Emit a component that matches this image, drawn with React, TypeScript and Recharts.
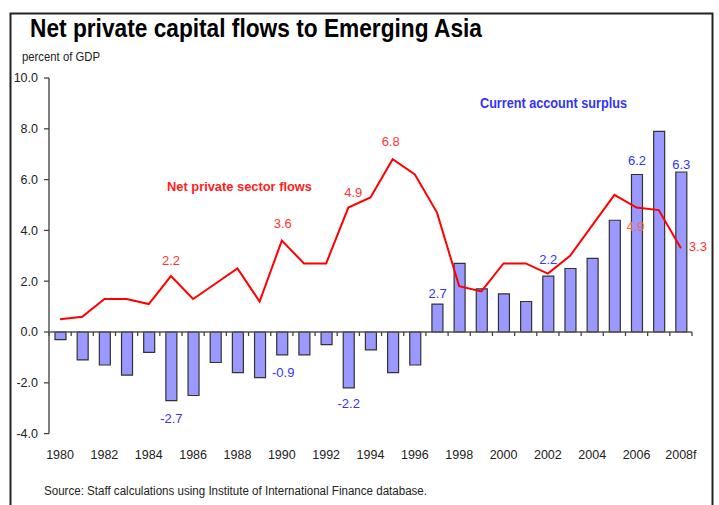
import React from 'react';
import { ComposedChart, Bar, Line, XAxis, YAxis, ReferenceLine, LabelList } from 'recharts';

const years = [
  '1980', '1981', '1982', '1983', '1984', '1985', '1986', '1987', '1988', '1989',
  '1990', '1991', '1992', '1993', '1994', '1995', '1996', '1997', '1998', '1999',
  '2000', '2001', '2002', '2003', '2004', '2005', '2006', '2007', '2008f',
];

// current account surplus, percent of GDP
const currentAccount = [
  -0.3, -1.1, -1.3, -1.7, -0.8, -2.7, -2.5, -1.2, -1.6, -1.8,
  -0.9, -0.9, -0.5, -2.2, -0.7, -1.6, -1.3, 1.1, 2.7, 1.7,
  1.5, 1.2, 2.2, 2.5, 2.9, 4.4, 6.2, 7.9, 6.3,
];

// net private sector flows, percent of GDP
const netPrivate = [
  0.5, 0.6, 1.3, 1.3, 1.1, 2.2, 1.3, 1.9, 2.5, 1.2,
  3.6, 2.7, 2.7, 4.9, 5.3, 6.8, 6.2, 4.7, 1.8, 1.6,
  2.7, 2.7, 2.3, 3.0, 4.2, 5.4, 4.9, 4.8, 3.3,
];

const yTicks = [-4, -2, 0, 2, 4, 6, 8, 10];

const data = years.map((year, i) => ({ year, ca: currentAccount[i], np: netPrivate[i] }));

const FONT = "'Liberation Sans', Arial, sans-serif";

// which points carry a value label, and where it sits relative to the mark
const caLabelPlace: Record<number, { dx: number; dy: number }> = {
  5: { dx: 0, dy: 18 },
  10: { dx: 1, dy: 18 },
  13: { dx: 0, dy: 16 },
  18: { dx: -22, dy: 30 },
  22: { dx: 0, dy: -17 },
  26: { dx: 0, dy: -14 },
  28: { dx: 0, dy: -7 },
};

const npLabelPlace: Record<number, { dx: number; dy: number; color?: string }> = {
  5: { dx: 0, dy: -16 },
  10: { dx: 1, dy: -17 },
  13: { dx: 5, dy: -15 },
  15: { dx: -2, dy: -18 },
  26: { dx: -1, dy: 19, color: '#ff6633' },
  28: { dx: 17, dy: -2 },
};

const box = (p: any) => {
  const vb = p.viewBox || {};
  return {
    x: vb.x ?? p.x ?? 0,
    y: vb.y ?? p.y ?? 0,
    width: vb.width ?? p.width ?? 0,
    height: vb.height ?? p.height ?? 0,
  };
};

const CaLabel = (p: any) => {
  const place = caLabelPlace[p.index];
  if (!place) return null;
  const { x, y, width, height } = box(p);
  const v = Number(p.value);
  const end = v >= 0 ? Math.min(y, y + height) : Math.max(y, y + height);
  return (
    <text x={x + width / 2 + place.dx} y={end + place.dy} textAnchor="middle" dominantBaseline="central"
      fill="#3333ff" fontSize={13} fontFamily={FONT}>
      {v.toFixed(1)}
    </text>
  );
};

const NpLabel = (p: any) => {
  const place = npLabelPlace[p.index];
  if (!place) return null;
  const { x, y, width } = box(p);
  const v = Number(p.value);
  return (
    <text x={x + width / 2 + place.dx} y={y + place.dy} textAnchor="middle" dominantBaseline="central"
      fill={place.color || '#ff3333'} fontSize={13} fontFamily={FONT}>
      {v.toFixed(1)}
    </text>
  );
};

// zero line acts as the category axis, with ticks at the band edges
const ZeroAxis = (p: any) => {
  const { x1, y1, x2 } = p;
  const n = years.length;
  const step = (x2 - x1) / n;
  const ticks = [];
  for (let i = 0; i <= n; i++) {
    const tx = x1 + i * step;
    ticks.push(<line key={i} x1={tx} y1={y1} x2={tx} y2={y1 + 4} stroke="#444" strokeWidth={1.3} />);
  }
  return (
    <g>
      <line x1={x1} y1={y1} x2={x2} y2={y1} stroke="#555" strokeWidth={1.5} />
      {ticks}
    </g>
  );
};

export default function App() {
  return (
    <div style={{ position: 'absolute', left: 0, top: 0, width: 719, height: 505, background: '#fff', overflow: 'hidden' }}>
      <ComposedChart width={719} height={505} data={data}
        margin={{ top: 78, right: 27, bottom: 0, left: 0 }}
        style={{ fontFamily: FONT }}>
        <XAxis dataKey="year" interval={1} axisLine={false} tickLine={false} tickSize={0} tickMargin={17}
          height={71.4} tick={{ fill: '#222', fontSize: 12.5 }} />
        <YAxis domain={[-4, 10]} ticks={yTicks} interval={0} width={49} tickSize={5} tickMargin={6}
          tickFormatter={(v: number) => v.toFixed(1)}
          axisLine={{ stroke: '#555', strokeWidth: 1.5 }} tickLine={{ stroke: '#444', strokeWidth: 1.3 }}
          tick={{ fill: '#222', fontSize: 12.5 }} />
        <Bar dataKey="ca" barSize={11} fill="#9999ff" stroke="#333" strokeWidth={1.2} isAnimationActive={false}>
          <LabelList dataKey="ca" content={CaLabel} />
        </Bar>
        <ReferenceLine y={0} shape={ZeroAxis} />
        <Line type="linear" dataKey="np" stroke="#ff0000" strokeWidth={2} dot={false} isAnimationActive={false}>
          <LabelList dataKey="np" content={NpLabel} />
        </Line>
      </ComposedChart>
      <svg width={719} height={505} style={{ position: 'absolute', left: 0, top: 0, pointerEvents: 'none' }}
        fontFamily={FONT}>
        <rect x={10.5} y={13.5} width={702} height={520} fill="none" stroke="#222" strokeWidth={2} />
        <text x={30} y={37} fontSize={25} fontWeight="bold" fill="#000" textLength={452} lengthAdjust="spacingAndGlyphs">
          Net private capital flows to Emerging Asia
        </text>
        <text x={22} y={60.5} fontSize={12} fill="#222" textLength={78} lengthAdjust="spacingAndGlyphs">
          percent of GDP
        </text>
        <text x={167} y={191} fontSize={13.5} fontWeight="bold" fill="#ff2020" textLength={145} lengthAdjust="spacingAndGlyphs">
          Net private sector flows
        </text>
        <text x={480} y={108} fontSize={14} fontWeight="bold" fill="#3333ff" textLength={147} lengthAdjust="spacingAndGlyphs">
          Current account surplus
        </text>
        <text x={44} y={495} fontSize={12} fill="#222" textLength={383} lengthAdjust="spacingAndGlyphs">
          Source: Staff calculations using Institute of International Finance database.
        </text>
      </svg>
    </div>
  );
}
